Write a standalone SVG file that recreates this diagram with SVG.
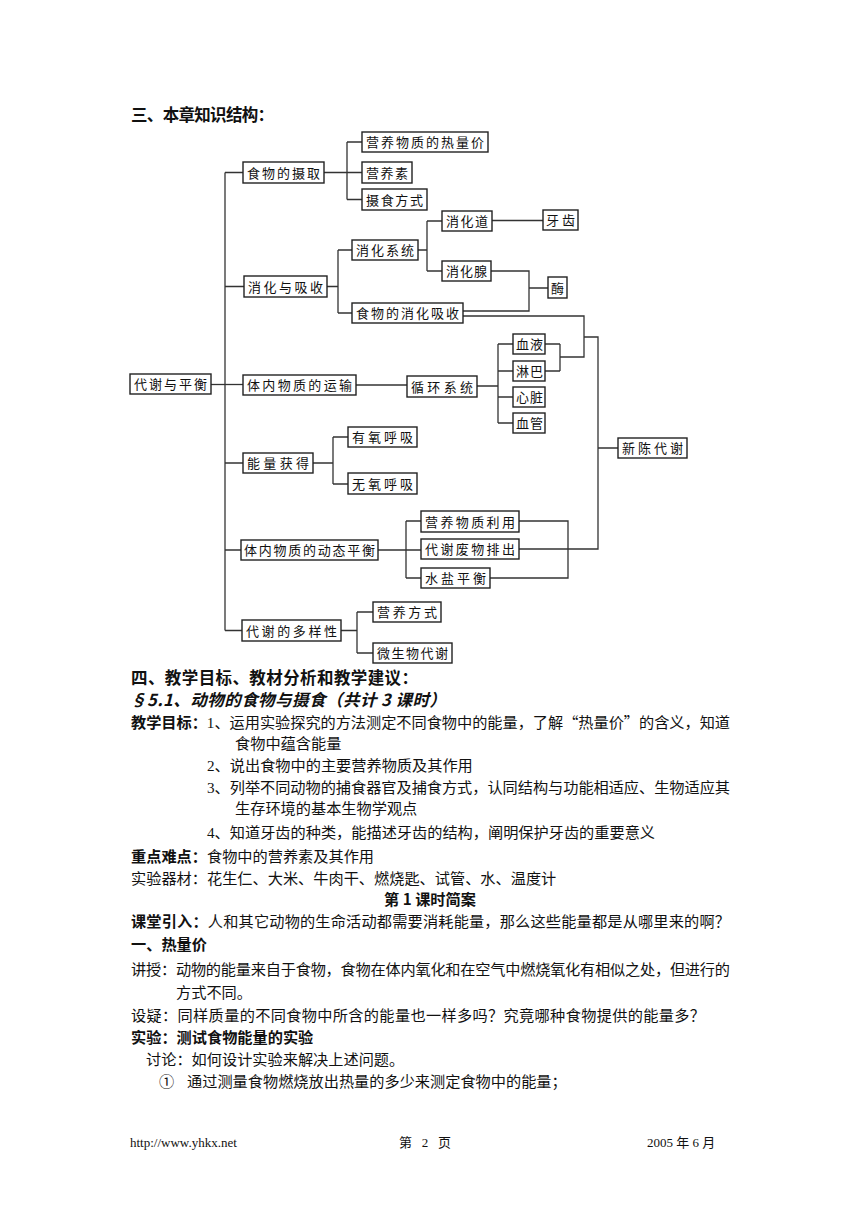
<svg xmlns="http://www.w3.org/2000/svg" width="860" height="1216" viewBox="0 0 860 1216">
<style>
.bg{fill:#fff}
.box rect{fill:#fff;stroke:#222;stroke-width:1.4}
.box text{font-family:"Noto Sans CJK SC","Liberation Sans",sans-serif;font-size:13px;fill:#111}
.con path{fill:none;stroke:#333;stroke-width:1.3}
.t{font-family:"Liberation Serif","Noto Sans CJK SC",serif;font-size:15.2px;fill:#111}
.c{font-family:"Noto Sans CJK SC",sans-serif}
.b{font-family:"Noto Sans CJK SC","Liberation Sans",sans-serif;font-weight:bold}
.h{font-family:"Noto Sans CJK SC","Liberation Sans",sans-serif;font-weight:bold;font-size:16.5px;fill:#111}
.f{font-family:"Liberation Serif","Noto Sans CJK SC",serif;font-size:13px;fill:#111}
</style>
<rect class="bg" x="0" y="0" width="860" height="1216"/>
<text class="h" x="131" y="121" textLength="143">三、本章知识结构：</text>

<g class="con">
<path d="M211 384.5H243"/>
<path d="M225 172.5V630.5"/>
<path d="M225 172.5H243M225 286.5H244M225 463H243M225 550H241M225 630.5H242"/>
<path d="M324 172.5H362M347 142V199.5M347 142H362M347 199.5H362"/>
<path d="M327 286.5H338M338 250V313M338 250H352M338 313H352"/>
<path d="M418 250H427M427 221V271M427 221H442M427 271H442"/>
<path d="M492 220.5H543"/>
<path d="M491 271H529V311H463M529 288H548"/>
<path d="M463 316H584V357H560M560 344V371M545 344H560M545 371H560"/>
<path d="M584 337H598V549H519M598 448H618"/>
<path d="M356 385H407"/>
<path d="M477 386H498M498 344V423M498 344H513M498 371H513M498 397H513M498 423H513"/>
<path d="M313 463H333M333 437V484M333 437H348M333 484H348"/>
<path d="M378 550H421M406 521V578M406 521H421M406 578H421"/>
<path d="M519 521H568V578H490"/>
<path d="M341 630.5H357M357 612V653M357 612H373M357 653H373"/>
</g>

<g id="n-daixie" class="box"><rect x="130" y="374" width="81" height="20"/><text x="134" y="389" textLength="73">代谢与平衡</text></g>
<g id="n-sheqv" class="box"><rect x="243" y="162" width="81" height="21"/><text x="247" y="177.5" textLength="73">食物的摄取</text></g>
<g id="n-xiaohua" class="box"><rect x="244" y="276" width="83" height="21"/><text x="248" y="291.5" textLength="75">消化与吸收</text></g>
<g id="n-yunshu" class="box"><rect x="243" y="375" width="113" height="20"/><text x="247" y="390" textLength="105">体内物质的运输</text></g>
<g id="n-nengliang" class="box"><rect x="243" y="453" width="70" height="20"/><text x="247" y="468" textLength="62">能量获得</text></g>
<g id="n-pingheng" class="box"><rect x="241" y="540" width="137" height="20"/><text x="244" y="555" textLength="131">体内物质的动态平衡</text></g>
<g id="n-duoyang" class="box"><rect x="242" y="620" width="99" height="21"/><text x="246" y="635.5" textLength="91">代谢的多样性</text></g>
<g id="n-reliang" class="box"><rect x="362" y="132" width="126" height="20"/><text x="366" y="147" textLength="118">营养物质的热量价</text></g>
<g id="n-yingyangsu" class="box"><rect x="362" y="162" width="50" height="21"/><text x="366" y="177.5" textLength="42">营养素</text></g>
<g id="n-sheshi" class="box"><rect x="362" y="189" width="65" height="21"/><text x="366" y="204.5" textLength="57">摄食方式</text></g>
<g id="n-xitong" class="box"><rect x="352" y="240" width="66" height="20"/><text x="356" y="255" textLength="58">消化系统</text></g>
<g id="n-xishou" class="box"><rect x="352" y="303" width="111" height="20"/><text x="356" y="318" textLength="103">食物的消化吸收</text></g>
<g id="n-xiaohuadao" class="box"><rect x="442" y="211" width="50" height="20"/><text x="446" y="226" textLength="42">消化道</text></g>
<g id="n-xiaohuaxian" class="box"><rect x="442" y="261" width="49" height="20"/><text x="446" y="276" textLength="41">消化腺</text></g>
<g id="n-yachi" class="box"><rect x="543" y="210" width="35" height="20"/><text x="546" y="225" textLength="29">牙齿</text></g>
<g id="n-mei" class="box"><rect x="548" y="277" width="19" height="21"/><text x="551" y="292.5">酶</text></g>
<g id="n-xunhuan" class="box"><rect x="407" y="376" width="70" height="21"/><text x="411" y="391.5" textLength="62">循环系统</text></g>
<g id="n-xueye" class="box"><rect x="513" y="334" width="32" height="20"/><text x="516" y="349" textLength="27">血液</text></g>
<g id="n-linba" class="box"><rect x="513" y="361" width="32" height="20"/><text x="516" y="376" textLength="27">淋巴</text></g>
<g id="n-xinzang" class="box"><rect x="513" y="387" width="32" height="20"/><text x="516" y="402" textLength="27">心脏</text></g>
<g id="n-xueguan" class="box"><rect x="513" y="413" width="32" height="20"/><text x="516" y="428" textLength="27">血管</text></g>
<g id="n-youyang" class="box"><rect x="348" y="427" width="69" height="20"/><text x="352" y="442" textLength="61">有氧呼吸</text></g>
<g id="n-wuyang" class="box"><rect x="348" y="473" width="69" height="21"/><text x="352" y="488.5" textLength="61">无氧呼吸</text></g>
<g id="n-liyong" class="box"><rect x="421" y="511" width="98" height="21"/><text x="425" y="526.5" textLength="90">营养物质利用</text></g>
<g id="n-paichu" class="box"><rect x="421" y="539" width="98" height="20"/><text x="425" y="554" textLength="90">代谢废物排出</text></g>
<g id="n-shuiyan" class="box"><rect x="421" y="568" width="69" height="20"/><text x="425" y="583" textLength="61">水盐平衡</text></g>
<g id="n-fangshi" class="box"><rect x="373" y="602" width="68" height="20"/><text x="377" y="617" textLength="60">营养方式</text></g>
<g id="n-weishengwu" class="box"><rect x="373" y="643" width="79" height="20"/><text x="377" y="658" textLength="71">微生物代谢</text></g>
<g id="n-xinchen" class="box"><rect x="618" y="438" width="69" height="20"/><text x="622" y="453" textLength="61">新陈代谢</text></g>

<text class="h" x="131" y="684" textLength="287" font-size="17">四、教学目标、教材分析和教学建议：</text>
<text class="h" x="130" y="706" textLength="316" font-style="italic">§5.1、动物的食物与摄食（共计 3 课时）</text>
<text class="t" x="131" y="727.5" textLength="599"><tspan class="b">教学目标：</tspan>1、运用实验探究的方法测定不同食物中的能量，了解<tspan class="c">“</tspan>热量价<tspan class="c">”</tspan>的含义，知道</text>
<text class="t" x="235" y="748.5">食物中蕴含能量</text>
<text class="t" x="207" y="770.5">2、说出食物中的主要营养物质及其作用</text>
<text class="t" x="207" y="792.5" textLength="523">3、列举不同动物的捕食器官及捕食方式，认同结构与功能相适应、生物适应其</text>
<text class="t" x="235" y="813.5">生存环境的基本生物学观点</text>
<text class="t" x="207" y="837.5">4、知道牙齿的种类，能描述牙齿的结构，阐明保护牙齿的重要意义</text>
<text class="t" x="131" y="861.5"><tspan class="b">重点难点：</tspan>食物中的营养素及其作用</text>
<text class="t" x="131" y="883.5">实验器材：花生仁、大米、牛肉干、燃烧匙、试管、水、温度计</text>
<text class="t b" x="430" y="904.5" text-anchor="middle">第 1 课时简案</text>
<text class="t" x="131" y="926.5" textLength="599"><tspan class="b">课堂引入：</tspan>人和其它动物的生命活动都需要消耗能量，那么这些能量都是从哪里来的啊？</text>
<text class="t b" x="131" y="949.5">一、热量价</text>
<text class="t" x="131" y="974.5" textLength="599">讲授：动物的能量来自于食物，食物在体内氧化和在空气中燃烧氧化有相似之处，但进行的</text>
<text class="t" x="176" y="997.5">方式不同。</text>
<text class="t" x="131" y="1020.5" textLength="574">设疑：同样质量的不同食物中所含的能量也一样多吗？究竟哪种食物提供的能量多？</text>
<text class="t b" x="131" y="1042.5">实验：测试食物能量的实验</text>
<text class="t" x="146" y="1064.5">讨论：如何设计实验来解决上述问题。</text>
<text class="t" x="159" y="1086.5">①</text>
<text class="t" x="187" y="1086.5">通过测量食物燃烧放出热量的多少来测定食物中的能量；</text>

<text class="f" x="130" y="1147">http://www.yhkx.net</text>
<text class="f" x="399" y="1147" xml:space="preserve">第   2   页</text>
<text class="f" x="647" y="1147">2005 年 6 月</text>
</svg>
